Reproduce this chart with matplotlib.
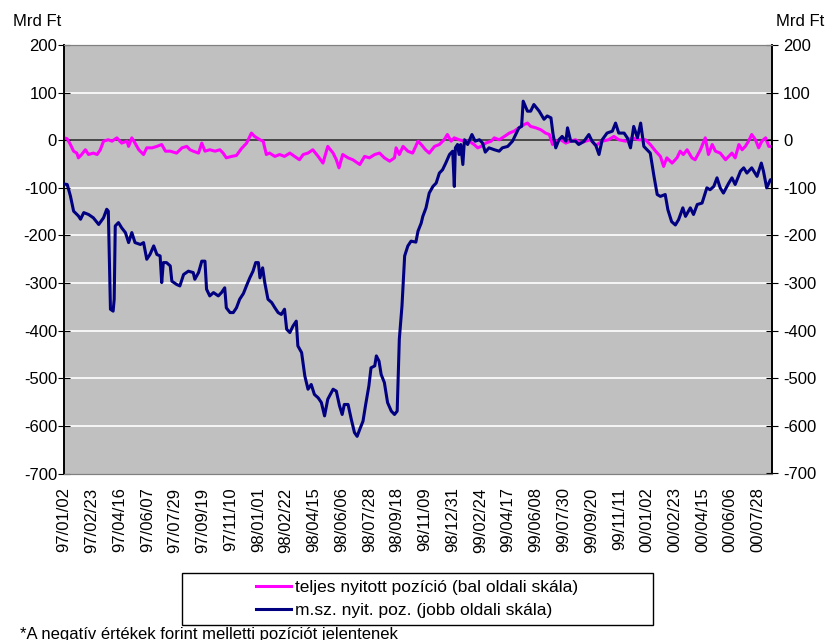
import numpy as np
import matplotlib.pyplot as plt
from matplotlib.patches import Rectangle

plt.rcParams['font.family'] = ['Liberation Sans', 'DejaVu Sans']
plt.rcParams['font.size'] = 12
plt.rcParams['axes.unicode_minus'] = False

# x tick labels (every 52 days from 97/01/02)
tick_labels = ["97/01/02", "97/02/23", "97/04/16", "97/06/07", "97/07/29", "97/09/19",
               "97/11/10", "98/01/01", "98/02/22", "98/04/15", "98/06/06", "98/07/28",
               "98/09/18", "98/11/09", "98/12/31", "99/02/24", "99/04/17", "99/06/08",
               "99/07/30", "99/09/20", "99/11/11", "00/01/02", "00/02/23", "00/04/15",
               "00/06/06", "00/07/28"]
tick_step = 52
last_day = 1326

# teljes nyitott pozicio (left scale), days since 97/01/02
pink_day = [0, 6, 12, 18, 24, 27, 33, 40, 46, 55, 62, 68, 74, 83, 90, 99, 108, 118, 121, 127,
            133, 140, 149, 155, 165, 174, 183, 190, 199, 211, 221, 230, 236, 242, 252, 258,
            264, 273, 283, 292, 298, 304, 314, 323, 332, 342, 351, 357, 367, 373, 379, 385,
            395, 404, 413, 423, 432, 441, 448, 457, 466, 476, 485, 494, 504, 510, 515, 522,
            532, 541, 554, 563, 572, 582, 591, 600, 610, 619, 622, 628, 635, 644, 653, 663,
            669, 677, 684, 694, 703, 712, 718, 725, 731, 740, 750, 759, 768, 775, 781, 790,
            800, 806, 815, 825, 834, 843, 852, 862, 868, 874, 884, 893, 902, 909, 915, 921,
            930, 940, 949, 958, 968, 977, 986, 996, 1008, 1020, 1030, 1039, 1052, 1064, 1076,
            1089, 1098, 1108, 1117, 1123, 1129, 1139, 1148, 1154, 1160, 1167, 1176, 1182,
            1192, 1201, 1207, 1214, 1220, 1229, 1239, 1245, 1251, 1257, 1264, 1270, 1276,
            1282, 1288, 1295, 1301, 1307, 1314, 1320, 1326]
pink_val = [5, 3, -9, -23, -27, -37, -30, -20, -30, -27, -30, -20, -2, 1, -2, 5, -6, -2, -13, 5,
            -6, -20, -30, -16, -16, -13, -9, -23, -23, -27, -16, -13, -20, -23, -27, -6,
            -23, -20, -23, -20, -27, -37, -34, -32, -18, -6, 15, 8, 1, -2, -30, -27,
            -34, -30, -34, -27, -34, -41, -30, -27, -20, -34, -48, -13, -27, -41, -58, -30,
            -37, -41, -51, -34, -37, -30, -27, -37, -44, -37, -16, -30, -13, -23, -27, -2,
            -9, -20, -27, -13, -9, 1, 12, -2, 5, 1, -2, -2, -9, -16, -13, -6,
            -2, 5, 1, 8, 15, 19, 26, 33, 36, 29, 26, 22, 15, 12, -9, -2,
            1, -6, -2, 1, -6, -2, 1, -11, -2, 1, 8, 1, -2, 5, 1,
            1, -9, -23, -34, -55, -37, -48, -37, -23, -30, -20, -37, -41,
            -20, 5, -30, -9, -23, -27, -41, -34, -27, -37, -9, -20, -13,
            -2, 12, 1, -16, -2, 5, -13, -13]

# m.sz. nyit. poz. (right scale)
blue_day = [0, 6, 12, 18, 27, 31, 37, 46, 55, 65, 74, 80, 83, 87, 92, 94, 96, 102, 108, 115,
            121, 127, 133, 143, 149, 155, 161, 168, 174, 180, 183, 186, 192, 199, 202, 211,
            217, 224, 233, 242, 245, 252, 258, 264, 267, 273, 280, 289, 295, 301, 304, 311,
            317, 323, 329, 336, 342, 348, 354, 359, 364, 367, 372, 376, 382, 389, 395, 401,
            407, 413, 417, 423, 429, 435, 438, 445, 451, 457, 463, 469, 476, 482, 488, 494,
            504, 510, 516, 521, 525, 532, 538, 544, 549, 554, 560, 565, 571, 575, 582, 585,
            590, 594, 600, 606, 613, 619, 624, 628, 633, 638, 644, 650, 659, 663, 669, 672,
            678, 684, 691, 697, 703, 709, 715, 722, 728, 731, 733, 737, 740, 743, 747, 750,
            756, 764, 770, 778, 784, 789, 796, 806, 815, 821, 831, 840, 846, 852, 857, 860,
            868, 874, 880, 890, 899, 905, 912, 916, 921, 927, 933, 940, 943, 949, 958, 964,
            974, 983, 989, 996, 1002, 1008, 1017, 1027, 1033, 1039, 1049, 1055, 1061, 1067,
            1074, 1080, 1086, 1092, 1098, 1105, 1111, 1117, 1126, 1131, 1138, 1145, 1151,
            1159, 1164, 1173, 1179, 1186, 1195, 1204, 1210, 1217, 1223, 1229, 1235, 1245,
            1251, 1257, 1267, 1273, 1279, 1288, 1298, 1306, 1310, 1316, 1323, 1326]
blue_val = [-92, -93, -117, -149, -159, -166, -152, -156, -163, -177, -163, -145, -149, -355,
            -359, -334, -180, -173, -184, -194, -215, -194, -215, -219, -215, -250, -240,
            -222, -240, -243, -299, -257, -257, -264, -296, -303, -306, -282, -275, -278,
            -292, -278, -254, -254, -313, -327, -320, -327, -320, -310, -352, -362, -362,
            -352, -334, -322, -305, -289, -275, -257, -257, -289, -268, -299, -334, -341,
            -352, -362, -366, -355, -397, -404, -390, -380, -432, -446, -495, -523, -513,
            -534, -541, -551, -579, -544, -523, -527, -558, -576, -555, -555, -586, -614,
            -622, -607, -590, -555, -516, -478, -474, -453, -464, -492, -509, -551, -569,
            -576, -569, -418, -348, -243, -222, -212, -214, -191, -174, -160, -142, -111,
            -97, -90, -69, -62, -48, -30, -23, -97, -16, -9, -30, -9, -51, 1, -9, 12, -2,
            1, -6, -25, -16, -20, -23, -16, -13, -2, 12, 26, 29, 82, 61, 61, 75, 61, 44,
            51, 47, 12, -16, 1, 8, -2, 26, -2, -2, -9, -2, 12, -2, -11, -30, 1, 15, 19, 36,
            15, 15, 5, -16, 29, 5, 36, -13, -20, -27, -76, -114, -118, -114, -146, -171,
            -178, -167, -142, -160, -142, -156, -135, -132, -100, -104, -97, -79, -100,
            -111, -90, -79, -93, -65, -58, -69, -58, -76, -48, -65, -100, -83, -83]

fig = plt.figure(figsize=(8.28, 6.4), dpi=100)
ax = fig.add_axes([64 / 828, 1 - 473.5 / 640, 708 / 828, 428.5 / 640])
ax2 = ax.twinx()

ax.set_facecolor('#c0c0c0')
ax.set_ylim(-700, 200)
ax2.set_ylim(-700, 200)
ax.set_xlim(0, last_day)
yt = np.arange(-700, 201, 100)
for v in yt[1:-1]:
    if v == 0:
        ax.axhline(v, color='#333333', lw=1.2, zorder=1)
    else:
        ax.axhline(v, color='white', lw=1.2, zorder=1)

l1, = ax.plot(pink_day, pink_val, color='#ff00ff', lw=2.2, zorder=3,
              label='teljes nyitott pozíció (bal oldali skála)')
l2, = ax2.plot(blue_day, blue_val, color='#000080', lw=2.2, zorder=3,
               label='m.sz. nyit. poz. (jobb oldali skála)')

ax.set_yticks(yt)
ax2.set_yticks(yt)
ax.tick_params(axis='y', direction='inout', length=8, pad=1, labelsize=12)
ax2.tick_params(axis='y', direction='inout', length=8, pad=4, labelsize=12)
ax.set_xticks(np.arange(len(tick_labels)) * tick_step)
ax.set_xticklabels(tick_labels, rotation=90, fontsize=12)
ax.tick_params(axis='x', length=0, pad=10)

for a in (ax, ax2):
    for s in ('top', 'bottom'):
        a.spines[s].set_color('#808080')
    a.spines['left'].set_color('black')
    a.spines['right'].set_color('black')
    a.spines['left'].set_linewidth(1.2)
    a.spines['right'].set_linewidth(1.2)

fig.text(13 / 828, 1 - 21 / 640, 'Mrd Ft', ha='left', va='center', fontsize=12)
fig.text(776 / 828, 1 - 21 / 640, 'Mrd Ft', ha='left', va='center', fontsize=12)

# legend box
fig.patches.append(Rectangle((182 / 828, 1 - 625 / 640), (653 - 182) / 828, 52 / 640,
                             transform=fig.transFigure, fill=True, facecolor='white',
                             edgecolor='black', lw=1))
fig.legend(handles=[l1, l2], loc='center', bbox_to_anchor=(0.5042, 0.0641),
           frameon=False, fontsize=12.5, handlelength=2.0, handletextpad=0.25,
           labelspacing=0.5)

fig.text(20 / 828, 1 - 627 / 640, '*A negatív értékek forint melletti pozíciót jelentenek',
         ha='left', va='top', fontsize=12)

fig.savefig('out.png', dpi=100)
